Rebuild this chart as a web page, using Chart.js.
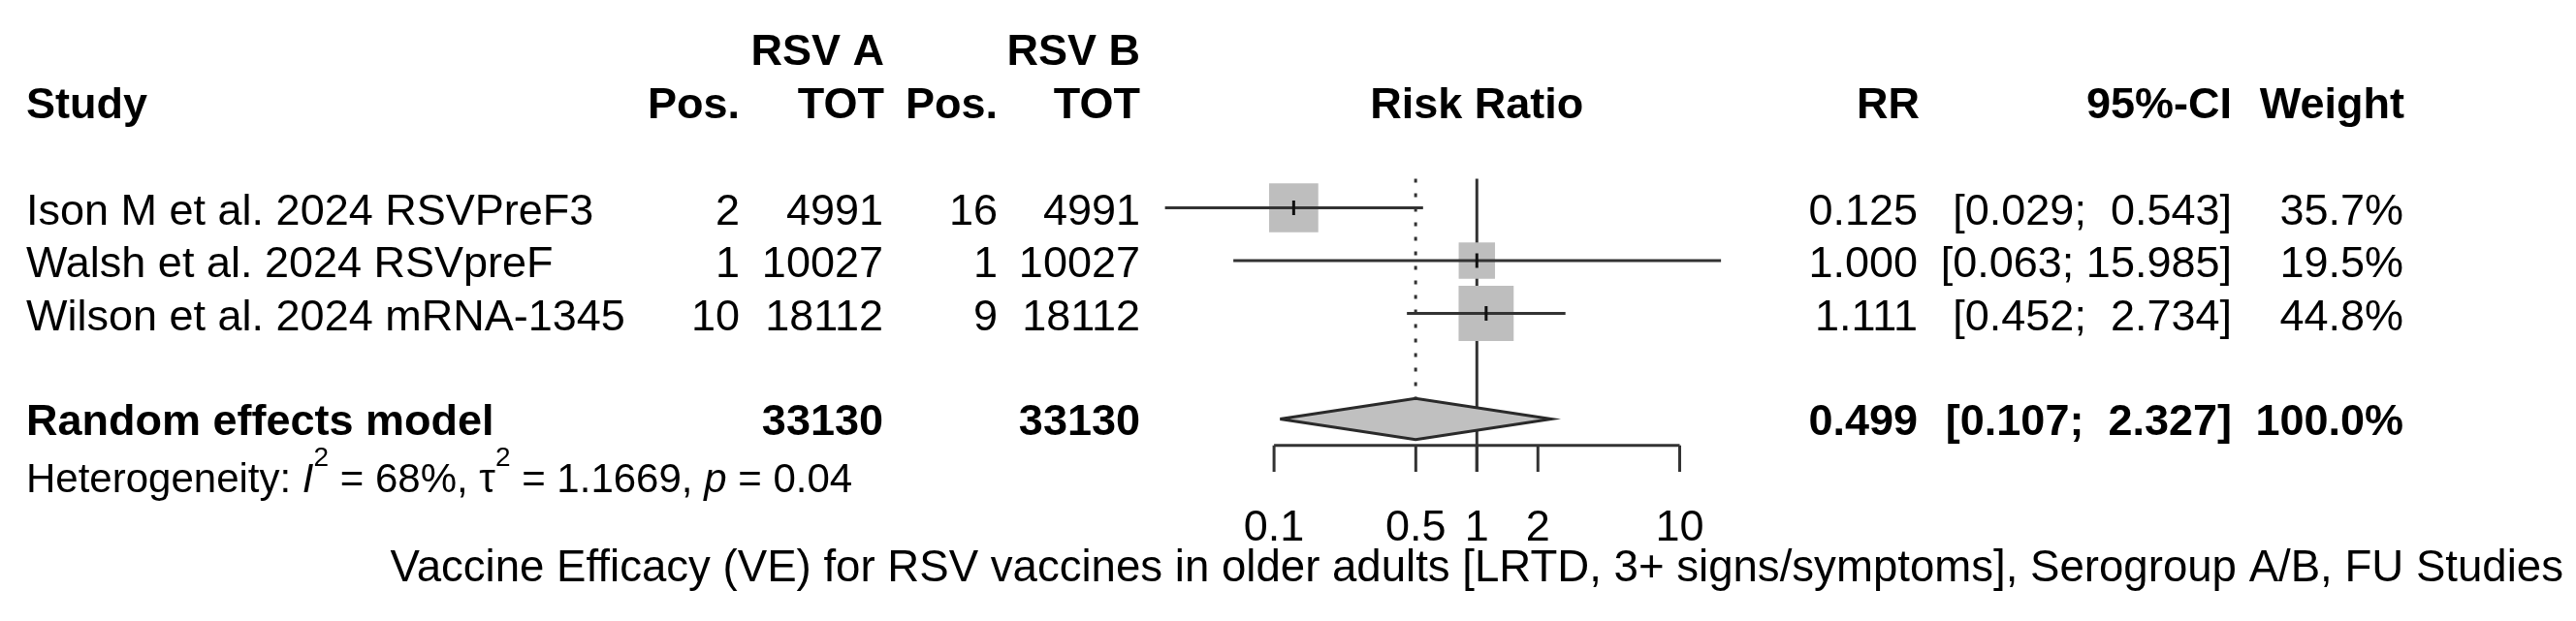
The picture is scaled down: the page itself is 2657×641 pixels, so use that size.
<!DOCTYPE html>
<html>
<head>
<meta charset="utf-8">
<script src="https://cdn.jsdelivr.net/npm/chart.js@4.4.1/dist/chart.umd.min.js"></script>
<style>
  html, body { margin: 0; padding: 0; background: #fff; }
  canvas { display: block; }
</style>
</head>
<body>
<canvas id="forest" width="2657" height="641"></canvas>
<script>
// datos del forest plot
const studies = ['Ison M et al. 2024 RSVPreF3', 'Walsh et al. 2024 RSVpreF', 'Wilson et al. 2024 mRNA-1345'];
const posA = [2, 1, 10];
const totA = [4991, 10027, 18112];
const posB = [16, 1, 9];
const totB = [4991, 10027, 18112];
const rr = [0.125, 1.000, 1.111];
const ciLow = [0.029, 0.063, 0.452];
const ciHigh = [0.543, 15.985, 2.734];
const weights = [35.7, 19.5, 44.8];

const pooledLabel = 'Random effects model';
const pooledTotals = [33130, 33130];
const pooledRR = 0.499;
const pooledCI = [0.107, 2.327];
const heterogeneity = { i2: '68%', tau2: '1.1669', p: '0.04' };

const tickValues = [0.1, 0.5, 1, 2, 10];
const tickLabels = ['0.1', '0.5', '1', '2', '10'];
const xLabel = 'Vaccine Efficacy (VE) for RSV vaccines in older adults [LRTD, 3+ signs/symptoms], Serogroup A/B, FU Studies';

const FONT = '"Liberation Sans", Arial, Helvetica, sans-serif';
const LINE = '#333';
const pooledRow = studies.length + 2;
const axisRow = pooledRow + 0.5;
const diamondHalf = 0.39;

const fmtCI = (lo, hi) => `[${lo.toFixed(3)}; ${hi.toFixed(3).padStart(6, ' ')}]`;

// datasets
const datasets = [];

// linea de referencia en RR = 1
datasets.push({
  type: 'line', data: [{ x: 1, y: 0.45 }, { x: 1, y: axisRow + 0.5 }],
  borderColor: LINE, borderWidth: 3, pointRadius: 0, order: 9
});
// linea punteada en el estimado combinado
datasets.push({
  type: 'line', data: [{ x: pooledRR, y: 0.45 }, { x: pooledRR, y: pooledRow - diamondHalf }],
  borderColor: LINE, borderWidth: 3, borderDash: [4, 11], pointRadius: 0, order: 9
});
// diamante
datasets.push({
  type: 'line',
  data: [
    { x: pooledCI[0], y: pooledRow }, { x: pooledRR, y: pooledRow - diamondHalf },
    { x: pooledCI[1], y: pooledRow }, { x: pooledRR, y: pooledRow + diamondHalf },
    { x: pooledCI[0], y: pooledRow }
  ],
  borderColor: '#2a2a2a', borderWidth: 3, backgroundColor: '#c0c0c0',
  fill: 'shape', pointRadius: 0, borderJoinStyle: 'miter', order: 5
});
// eje
datasets.push({
  type: 'line', data: [{ x: tickValues[0], y: axisRow }, { x: tickValues[tickValues.length - 1], y: axisRow }],
  borderColor: LINE, borderWidth: 3, pointRadius: 0, order: 5
});
tickValues.forEach(t => {
  datasets.push({
    type: 'line', data: [{ x: t, y: axisRow }, { x: t, y: axisRow + 0.5 }],
    borderColor: LINE, borderWidth: 3, pointRadius: 0, order: 5
  });
});
// cuadrados (area ~ peso)
datasets.push({
  type: 'scatter',
  data: rr.map((v, i) => ({ x: v, y: i + 1 })),
  pointStyle: 'rect',
  pointRadius: ctx => 6.0 * Math.sqrt(weights[ctx.dataIndex] || 0),
  backgroundColor: '#bebebe', borderWidth: 0, order: 4
});
// intervalos de confianza
studies.forEach((s, i) => {
  datasets.push({
    type: 'line', data: [{ x: ciLow[i], y: i + 1 }, { x: ciHigh[i], y: i + 1 }],
    borderColor: LINE, borderWidth: 3, pointRadius: 0, order: 2
  });
});
// marca del estimado puntual
datasets.push({
  type: 'scatter',
  data: rr.map((v, i) => ({ x: v, y: i + 1 })),
  pointStyle: 'line', rotation: 90, pointRadius: 7.5,
  borderColor: '#111', borderWidth: 3, order: 1
});

// texto de la tabla
const tablePlugin = {
  id: 'tableText',
  afterDraw(chart) {
    const ctx = chart.ctx;
    const xs = chart.scales.x, ys = chart.scales.y;
    const txt = (str, x, y, align = 'left', weight = 'normal', size = 45, style = 'normal') => {
      ctx.font = `${style} ${weight} ${size}px ${FONT}`;
      ctx.textAlign = align;
      ctx.textBaseline = 'alphabetic';
      ctx.fillStyle = '#000';
      ctx.fillText(str, x, y);
      return ctx.measureText(str).width;
    };
    ctx.save();

    // cabeceras
    txt('RSV A', 912, 67, 'right', 'bold');
    txt('RSV B', 1176, 67, 'right', 'bold');
    txt('Study', 27, 122, 'left', 'bold');
    txt('Pos.', 763, 122, 'right', 'bold');
    txt('TOT', 912, 122, 'right', 'bold');
    txt('Pos.', 1029, 122, 'right', 'bold');
    txt('TOT', 1176, 122, 'right', 'bold');
    txt('Risk Ratio', xs.getPixelForValue(1), 122, 'center', 'bold');
    txt('RR', 1980, 122, 'right', 'bold');
    txt('95%-CI', 2302, 122, 'right', 'bold');
    txt('Weight', 2480, 122, 'right', 'bold');

    // filas de estudios
    studies.forEach((s, i) => {
      const y = ys.getPixelForValue(i + 1) + 17;
      txt(s, 27, y);
      txt(String(posA[i]), 763, y, 'right');
      txt(String(totA[i]), 911, y, 'right');
      txt(String(posB[i]), 1029, y, 'right');
      txt(String(totB[i]), 1176, y, 'right');
      txt(rr[i].toFixed(3), 1978, y, 'right');
      txt(fmtCI(ciLow[i], ciHigh[i]), 2302, y, 'right');
      txt(weights[i].toFixed(1) + '%', 2479, y, 'right');
    });

    // fila combinada
    const yp = ys.getPixelForValue(pooledRow) + 16;
    txt(pooledLabel, 27, yp, 'left', 'bold');
    txt(String(pooledTotals[0]), 911, yp, 'right', 'bold');
    txt(String(pooledTotals[1]), 1176, yp, 'right', 'bold');
    txt(pooledRR.toFixed(3), 1978, yp, 'right', 'bold');
    txt(fmtCI(pooledCI[0], pooledCI[1]), 2302, yp, 'right', 'bold');
    const totalW = weights.reduce((a, b) => a + b, 0);
    txt(totalW.toFixed(1) + '%', 2479, yp, 'right', 'bold');

    // heterogeneidad
    let hx = 27;
    const hy = 508, hs = 42, sup = 28, supY = 481;
    hx += txt('Heterogeneity: ', hx, hy, 'left', 'normal', hs);
    hx += txt('I', hx, hy, 'left', 'normal', hs, 'italic');
    hx += txt('2', hx, supY, 'left', 'normal', sup);
    hx += txt(` = ${heterogeneity.i2}, `, hx, hy, 'left', 'normal', hs);
    hx += txt('\u03C4', hx, hy, 'left', 'normal', hs);
    hx += txt('2', hx, supY, 'left', 'normal', sup);
    hx += txt(` = ${heterogeneity.tau2}, `, hx, hy, 'left', 'normal', hs);
    hx += txt('p', hx, hy, 'left', 'normal', hs, 'italic');
    txt(` = ${heterogeneity.p}`, hx, hy, 'left', 'normal', hs);

    // etiquetas del eje
    tickValues.forEach((t, i) => {
      txt(tickLabels[i], xs.getPixelForValue(t), 558, 'center');
    });
    txt(xLabel, xs.getPixelForValue(1), 600, 'center', 'normal', 45.6);

    ctx.restore();
  }
};

const chart = new Chart(document.getElementById('forest').getContext('2d'), {
  type: 'scatter',
  data: { datasets },
  options: {
    responsive: false,
    animation: false,
    devicePixelRatio: 1,
    layout: { padding: { left: 1104.9, right: 715.3, top: 160, bottom: 45 } },
    scales: {
      x: { type: 'logarithmic', min: 0.01, max: 100, display: false },
      y: { type: 'linear', min: 0, max: 8, reverse: true, display: false }
    },
    plugins: {
      legend: { display: false },
      tooltip: { enabled: false }
    },
    elements: { line: { tension: 0 } }
  },
  plugins: [tablePlugin]
});
</script>
</body>
</html>
